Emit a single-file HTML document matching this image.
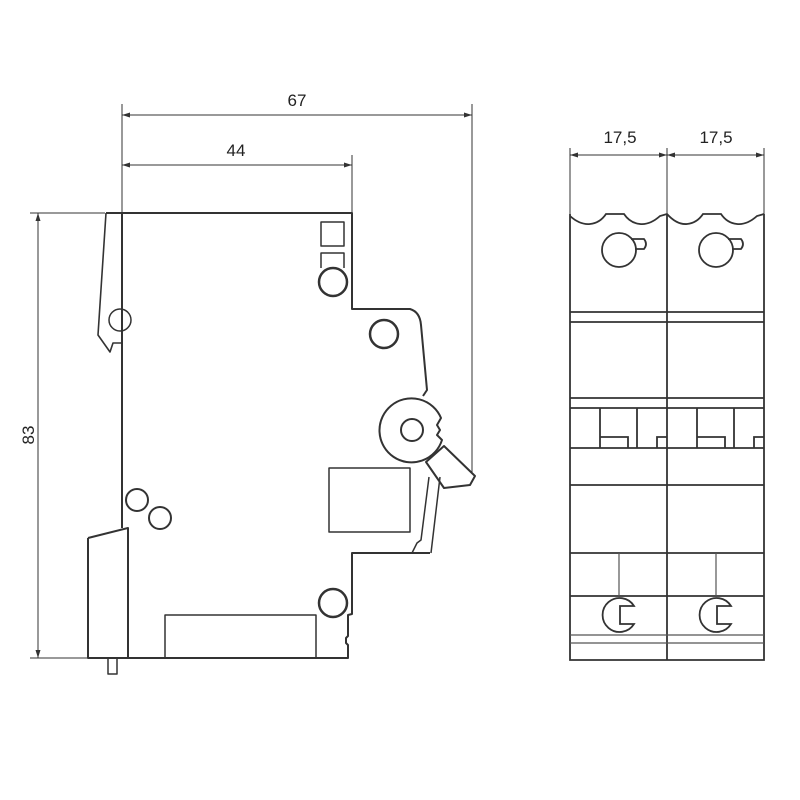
<!DOCTYPE html>
<html><head><style>body{margin:0;background:#fff}svg{display:block}</style></head><body>
<svg width="800" height="800" viewBox="0 0 800 800" xmlns="http://www.w3.org/2000/svg" font-family="Liberation Sans, sans-serif">
<g fill="none" stroke="#333" stroke-width="1">
<line x1="122" y1="104" x2="122" y2="213"/>
<line x1="472" y1="104" x2="472" y2="476"/>
<line x1="352" y1="155" x2="352" y2="213"/>
<line x1="122" y1="115" x2="472" y2="115"/>
<line x1="122" y1="165" x2="352" y2="165"/>
<line x1="30" y1="213" x2="105" y2="213"/>
<line x1="30" y1="658" x2="88" y2="658"/>
<line x1="38" y1="213" x2="38" y2="658"/>
<line x1="570" y1="148" x2="570" y2="215"/>
<line x1="667" y1="148" x2="667" y2="215"/>
<line x1="764" y1="148" x2="764" y2="215"/>
<line x1="570" y1="155" x2="764" y2="155"/>
</g>
<g fill="#333">
<path d="M122 115 l8 -2.5 v5z"/><path d="M472 115 l-8 -2.5 v5z"/>
<path d="M122 165 l8 -2.5 v5z"/><path d="M352 165 l-8 -2.5 v5z"/>
<path d="M38 213 l-2.5 8 h5z"/><path d="M38 658 l-2.5 -8 h5z"/>
<path d="M570 155 l8 -2.5 v5z"/><path d="M667 155 l-8 -2.5 v5z"/><path d="M667 155 l8 -2.5 v5z"/><path d="M764 155 l-8 -2.5 v5z"/>
</g>
<g fill="#222" font-size="17">
<text x="297" y="106" text-anchor="middle">67</text>
<text x="236" y="156" text-anchor="middle">44</text>
<text x="620" y="143" text-anchor="middle">17,5</text>
<text x="716" y="143" text-anchor="middle">17,5</text>
<text transform="translate(34,435) rotate(-90)" text-anchor="middle">83</text>
</g>
<g fill="none" stroke="#333" stroke-width="2" stroke-linejoin="round">
<path d="M106 213 H352 V309 H410 Q420 312 421 325 L427 390 L423 396"/>
<path d="M122 213 V528"/>
<path d="M106 213 L98 335 L110 352 L113 343 H122" stroke-width="1.6"/>
<path d="M88 538 L128 528 V658 M88 538 V658 H348 V645 L346 643 V638 L348 636 V615 L352 614 V553 H430"/>
<rect x="108" y="658" width="9" height="16" stroke-width="1.5"/>
<circle cx="120" cy="320" r="11" stroke-width="1.5"/>
<circle cx="137" cy="500" r="11"/>
<circle cx="160" cy="518" r="11"/>
<rect x="321" y="222" width="23" height="24" stroke-width="1.5"/>
<path d="M321 268 V253 H344 V268" stroke-width="1.5"/>
<circle cx="333" cy="282" r="14" stroke-width="2.5"/>
<circle cx="384" cy="334" r="14" stroke-width="2.5"/>
<circle cx="333" cy="603" r="14" stroke-width="2.5"/>
<rect x="329" y="468" width="81" height="64" stroke-width="1.5"/>
<rect x="165" y="615" width="151" height="43" stroke-width="1.5"/>
<path d="M441 418 A32 32 0 1 0 442 440 L437 435 L440 430 L437 425 Z" fill="#fff"/>
<circle cx="412" cy="430" r="11"/>
<path d="M426 462 L444 446 L475 476 L470 485 L444 488 Z" fill="#fff"/>
<path d="M440 477 L431 553 M429 477 L421 540 L417 543 L412 553" stroke-width="1.5"/>
</g>
<g fill="none" stroke="#333" stroke-width="1.8">
<path d="M570 214 V660 H764 V214"/>
<path d="M667 214 V660"/>
<path d="M570 216 Q580 225 590 224 Q600 223 606 214 H624 Q630 223 640 224 Q650 225 660 216 L667 214 Q677 225 687 224 Q697 223 703 214 H721 Q727 223 737 224 Q747 225 757 216 L764 214"/>
<circle cx="619" cy="250" r="17"/><path d="M631 239 H644 Q648 244 644 249 H635"/>
<circle cx="716" cy="250" r="17"/><path d="M728 239 H741 Q745 244 741 249 H732"/>
<path d="M570 312 H764 M570 322 H764 M570 398 H764 M570 408 H764 M570 448 H764 M570 485 H764 M570 553 H764 M570 596 H764"/>
<path d="M600 408 V448 M637 408 V448 M600 437 H628 V448 M657 448 V437 H667"/>
<path d="M697 408 V448 M734 408 V448 M697 437 H725 V448 M754 448 V437 H764"/>
<path d="M634 606 A17 17 0 1 0 634 624 L620 624 V606 Z"/>
<path d="M731 606 A17 17 0 1 0 731 624 L717 624 V606 Z"/>
</g>
<g fill="none" stroke="#555" stroke-width="1.2">
<path d="M619 553 V596 M716 553 V596 M570 635 H764 M570 643 H764"/>
</g>
</svg>
</body></html>
